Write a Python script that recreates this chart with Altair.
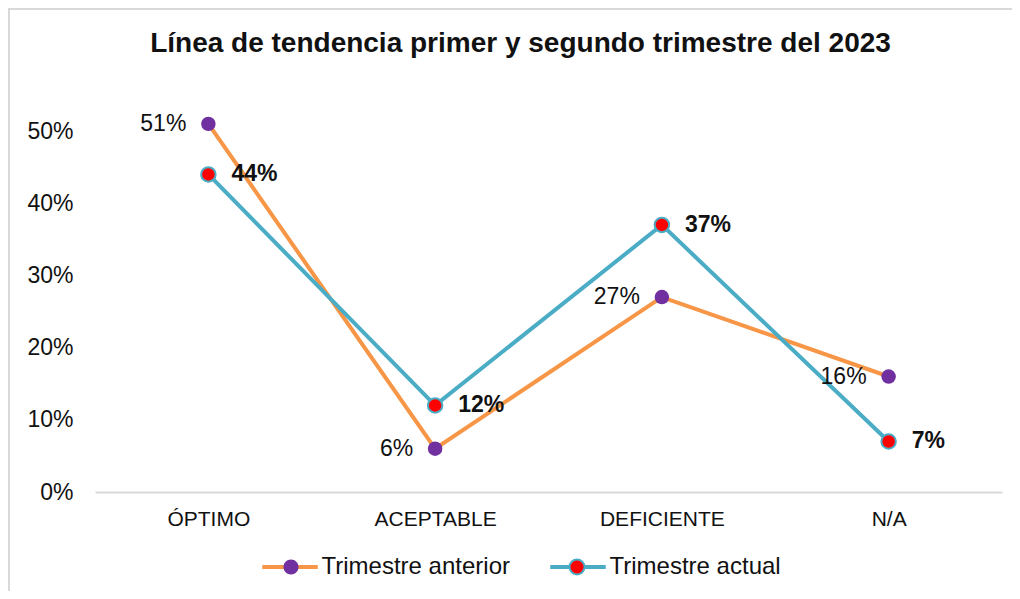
import altair as alt
import pandas as pd

categorias = ["ÓPTIMO", "ACEPTABLE", "DEFICIENTE", "N/A"]
anterior = [0.51, 0.06, 0.27, 0.16]
actual = [0.44, 0.12, 0.37, 0.07]
series = ["Trimestre anterior", "Trimestre actual"]
y_ticks = [0, 0.1, 0.2, 0.3, 0.4, 0.5]
titulo = "Línea de tendencia primer y segundo trimestre del 2023"

rows = []
for s, vals in zip(series, [anterior, actual]):
    for i, (c, v) in enumerate(zip(categorias, vals)):
        rows.append({"categoria": c, "valor": v, "serie": s, "serie_f": s, "orden": i})
df = pd.DataFrame(rows)

FONT = "Liberation Sans"
TXT = "#111111"
W, H = 907, 397
LEG_X, LEG_Y = 183, 460

x = alt.X("categoria:N", sort=categorias,
          scale=alt.Scale(type="point", padding=0.5),
          axis=alt.Axis(title=None, labelAngle=0, ticks=False, domainColor="#d9d9d9",
                        domainWidth=2, labelFontSize=21, labelPadding=16,
                        labelColor=TXT, labelFont=FONT))
y = alt.Y("valor:Q", scale=alt.Scale(domain=[0, 0.55], nice=False),
          axis=alt.Axis(title=None, values=y_ticks, format=".0%", grid=False, ticks=False,
                        domain=False, labelFontSize=23, labelPadding=22,
                        labelColor=TXT, labelFont=FONT))

base = alt.Chart(df)

frame = alt.Chart(alt.Data(values=[{}])).mark_rect(
    fill="transparent", stroke="#d9d9d9", strokeWidth=2
).encode(x=alt.value(-86), x2=alt.value(1300), y=alt.value(-86), y2=alt.value(900))

LINE_PATH = "M-3.7,0L3.7,0"
DOT_PATH = "M-3.7,0L-3.7,0M3.7,0L3.7,0M-1,0A1,1,0,1,1,1,0A1,1,0,1,1,-1,0Z"

common_leg = dict(title=None, orient="none", legendX=LEG_X, legendY=LEG_Y,
                  direction="horizontal", symbolSize=225, labelOffset=19.5,
                  labelFontSize=24, labelFont=FONT, labelLimit=400)

lines = base.mark_line(strokeWidth=4).encode(
    x=x, y=y,
    order=alt.Order("orden:Q"),
    stroke=alt.Stroke("serie:N",
                      scale=alt.Scale(domain=series, range=["#f79646", "#4bacc6"]),
                      legend=alt.Legend(symbolType=LINE_PATH, symbolStrokeWidth=4,
                                        labelColor=TXT, columnPadding=32, **common_leg)),
)

points = base.mark_circle(size=210, opacity=1, stroke="#4bacc6").encode(
    x=x, y=y,
    fill=alt.Fill("serie_f:N", sort=series,
                  scale=alt.Scale(range=["#7030a0", "#ff0000"]),
                  legend=alt.Legend(symbolType=DOT_PATH, symbolStrokeWidth=2,
                                    symbolOffset=1,
                                    symbolStrokeColor={"expr": "datum.value == 'Trimestre actual' ? '#4bacc6' : 'transparent'"},
                                    symbolOpacity=1, labelColor="transparent",
                                    labelExpr="''", columnPadding=222, **common_leg)),
    strokeWidth=alt.StrokeWidth("serie_f:N", sort=series,
                                scale=alt.Scale(range=[0, 2]), legend=None),
)

text_ant = base.transform_filter(alt.datum.serie == series[0]).mark_text(
    align="right", baseline="middle", dx=-22, fontSize=23, font=FONT, color=TXT
).encode(x=x, y=y, text=alt.Text("valor:Q", format=".0%"))

text_act = base.transform_filter(alt.datum.serie == series[1]).mark_text(
    align="left", baseline="middle", dx=23, fontSize=23, font=FONT, fontWeight="bold",
    color=TXT
).encode(x=x, y=y, text=alt.Text("valor:Q", format=".0%"))

chart = alt.layer(frame, lines, points, text_ant, text_act).properties(
    width=W, height=H,
    padding={"left": 87, "top": 87, "right": 10, "bottom": 99},
    autosize=alt.AutoSizeParams(type="none"),
    title=alt.TitleParams(titulo, fontSize=28, font=FONT, fontWeight="bold", color=TXT,
                          frame="group", anchor="middle", dx=-28, offset=-72,
                          baseline="alphabetic"),
    background="white",
).configure_view(strokeWidth=0)

chart.save("out.html", embed_options={"renderer": "svg", "actions": False})
